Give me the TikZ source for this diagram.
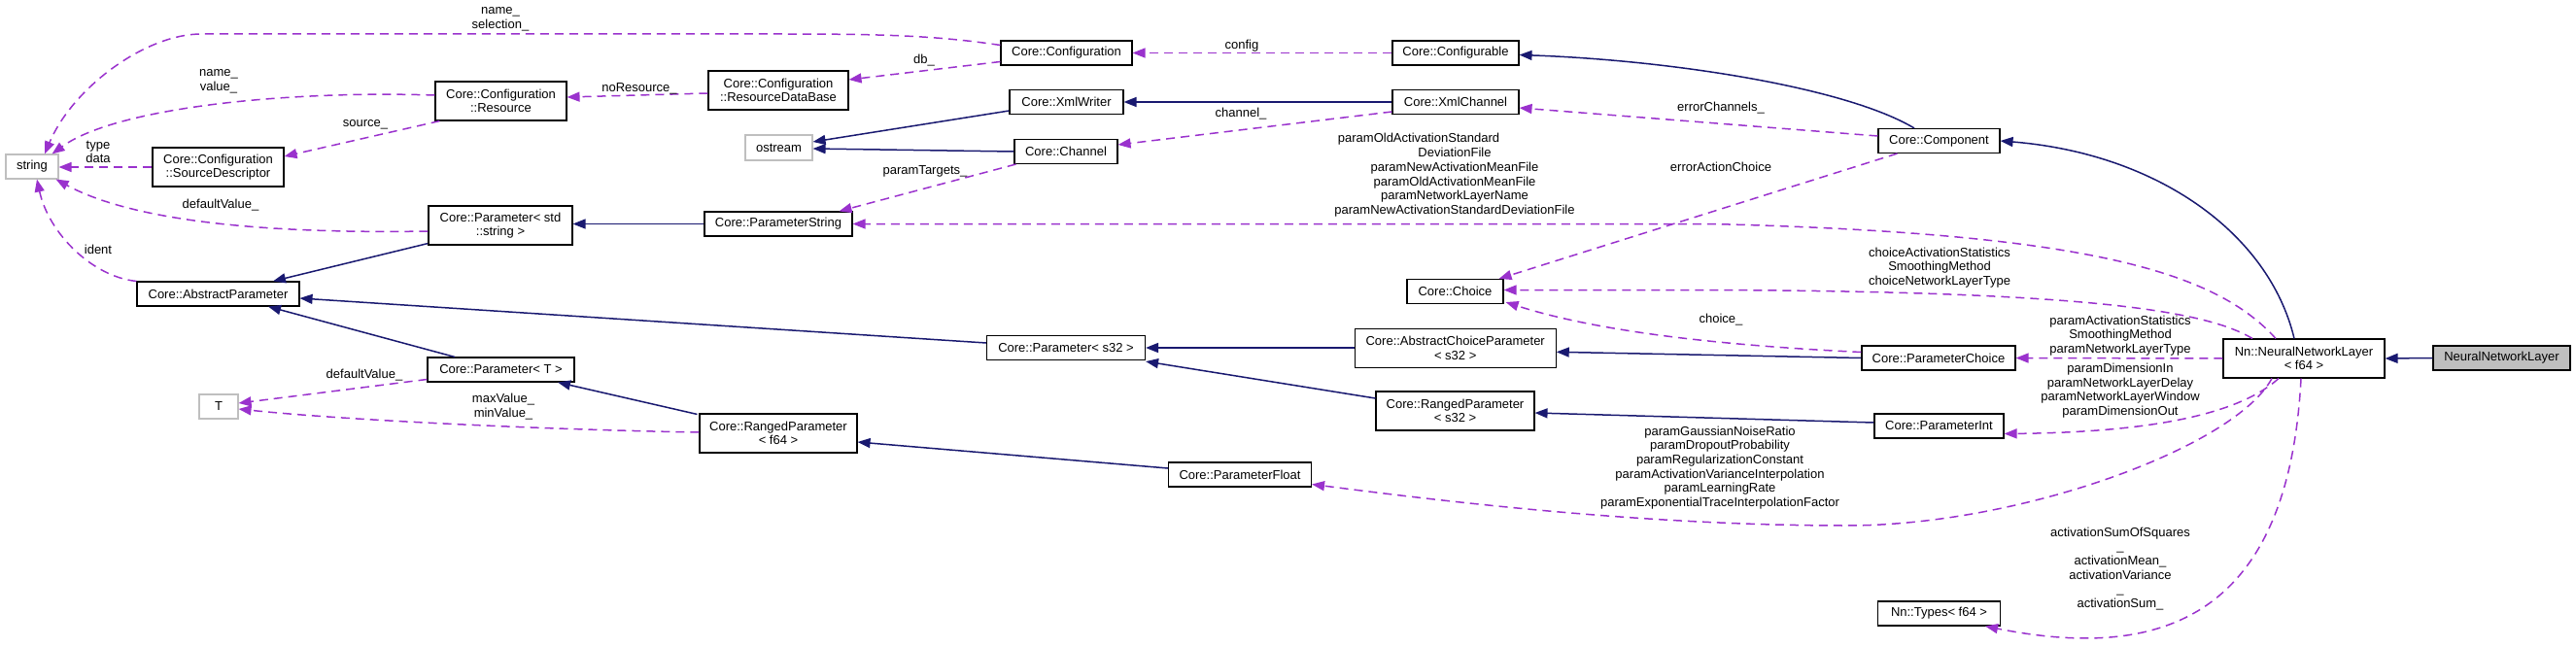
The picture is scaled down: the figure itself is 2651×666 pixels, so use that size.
\documentclass[tikz,border=0pt]{standalone}
\usepackage{fontspec}
\setmainfont{Liberation Sans}
\usetikzlibrary{arrows.meta,calc}
\definecolor{navyc}{HTML}{191970}
\definecolor{purpc}{HTML}{9A32CD}
\definecolor{boxgray}{HTML}{BFBFBF}
\begin{document}
\begin{tikzpicture}[x=1pt,y=-1pt,
  every node/.style={font=\fontsize{13}{14.7}\selectfont},
  cls/.style={draw=black, line width=1.1pt, fill=white, inner sep=0pt, minimum height=25pt, align=center},
  cls2/.style={cls, minimum height=40pt},
  gcls/.style={cls, draw=boxgray},
  lbl/.style={inner sep=0pt, align=center},
  inh/.style={draw=navyc, line width=1.5pt, -{Triangle[length=13pt,width=10pt]}},
  dep/.style={draw=purpc, line width=1.5pt, dash pattern=on 9pt off 6pt, -{Triangle[length=13pt,width=10pt]}}]
\useasboundingbox (0,0) rectangle (2651,666);
% ---------- classes ----------
\node[gcls, minimum width=54pt] (string) at (33,171.5) {string};
\node[cls2, minimum width=135pt] (Resource) at (515.5,104) {Core::Configuration\\::Resource};
\node[cls2, minimum width=144pt] (RDB) at (801,93) {Core::Configuration\\::ResourceDataBase};
\node[gcls, minimum width=69pt, minimum height=26pt] (ostream) at (801.5,152) {ostream};
\node[cls2, minimum width=135pt] (SrcDesc) at (224.5,172) {Core::Configuration\\::SourceDescriptor};
\node[cls2, minimum width=148pt] (PStd) at (515,232) {Core::Parameter< std\\::string >};
\node[cls, minimum width=152pt] (PString) at (801,230.5) {Core::ParameterString};
\node[cls, minimum width=167pt] (AbsP) at (224.5,302.5) {Core::AbstractParameter};
\node[cls, minimum width=151pt] (PT) at (515.5,380.5) {Core::Parameter< T >};
\node[gcls, minimum width=40pt] (T) at (225,418.5) {T};
\node[cls2, minimum width=162pt] (RF64) at (801,446) {Core::RangedParameter\\< f64 >};
\node[cls, minimum width=135pt] (Config) at (1097.5,54.5) {Core::Configuration};
\node[cls, minimum width=130pt] (Configurable) at (1498,54.5) {Core::Configurable};
\node[cls, minimum width=117pt] (XmlWriter) at (1097.5,105) {Core::XmlWriter};
\node[cls, minimum width=130pt] (XmlChannel) at (1498,105) {Core::XmlChannel};
\node[cls, minimum width=106pt] (Channel) at (1097,156) {Core::Channel};
\node[cls, minimum width=99pt] (Choice) at (1497.5,300) {Core::Choice};
\node[cls, minimum width=163pt] (PS32) at (1097,358) {Core::Parameter< s32 >};
\node[cls2, minimum width=207pt] (ACP) at (1497.7,358.3) {Core::AbstractChoiceParameter\\< s32 >};
\node[cls2, minimum width=163pt] (RS32) at (1497.5,423) {Core::RangedParameter\\< s32 >};
\node[cls, minimum width=147pt] (PFloat) at (1276,488.5) {Core::ParameterFloat};
\node[cls, minimum width=125pt] (Component) at (1995.5,145) {Core::Component};
\node[cls, minimum width=158pt] (PChoice) at (1995,368.5) {Core::ParameterChoice};
\node[cls2, minimum width=166pt] (NNLf) at (2371,369) {Nn::NeuralNetworkLayer\\< f64 >};
\node[cls, minimum width=141pt, fill=boxgray] (NNL) at (2574.5,368.5) {NeuralNetworkLayer};
\node[cls, minimum width=133pt] (PInt) at (1995.5,438.5) {Core::ParameterInt};
\node[cls, minimum width=126pt] (Types) at (1995.5,631.5) {Nn::Types< f64 >};
% ---------- inheritance ----------
\draw[inh] (NNL.west) -- (NNLf.east);
\draw[inh] ($(NNLf.north)+(-10,0)$) .. controls (2335,240) and (2220,158) .. (Component.east);
\draw[inh] ($(Component.north)+(-25.5,0)$) .. controls (1900,90) and (1720,62) .. ($(Configurable.east)+(0,2)$);
\draw[inh] (XmlChannel.west) -- (XmlWriter.east);
\draw[inh] ($(XmlWriter.west)+(0,9)$) -- ($(ostream.east)+(0,-6)$);
\draw[inh] (Channel.west) -- ($(ostream.east)+(0,1)$);
\draw[inh] (PString.west) -- (PString.west -| PStd.east);
\draw[inh] ($(PStd.south west)+(0,-2)$) -- ($(AbsP.north)+(56.5,0)$);
\draw[inh] ($(PS32.west)+(0,-5)$) -- ($(AbsP.east)+(0,4.5)$);
\draw[inh] ($(PT.north)+(-47.5,0)$) -- ($(AbsP.south)+(51.5,0)$);
\draw[inh] ($(RF64.north west)+(-2,1)$) -- ($(PT.south)+(58.5,0)$);
\draw[inh] ($(PFloat.west)+(0,-6.5)$) -- ($(RF64.east)+(0,9)$);
\draw[inh] (ACP.west |- PS32.east) -- (PS32.east);
\draw[inh] ($(RS32.west)+(0,-13)$) -- ($(PS32.south east)+(0,1)$);
\draw[inh] (PChoice.west) -- ($(ACP.east)+(0,4)$);
\draw[inh] ($(PInt.west)+(0,-3.5)$) -- ($(RS32.east)+(0,2)$);
% ---------- usage ----------
\draw[dep] ($(Config.west)+(0,-8)$) .. controls (960,36) and (900,35) .. (800,35) -- (207,35) .. controls (150,35) and (75,90) .. ($(string.north)+(13,0)$);
\draw[dep] ($(Resource.west)+(0,-6)$) .. controls (300,93) and (120,110) .. ($(string.north east)+(-7,0)$);
\draw[dep] ($(Resource.south west)+(5,0)$) -- ($(SrcDesc.east)+(0,-11)$);
\draw[dep] (SrcDesc.west) -- (SrcDesc.west -| string.east);
\draw[dep] ($(PStd.west)+(0,6)$) .. controls (320,240) and (150,235) .. ($(string.south east)+(-3,0)$);
\draw[dep] (AbsP.north west) .. controls (95,285) and (50,240) .. ($(string.south)+(5,0)$);
\draw[dep] ($(RDB.west)+(0,3)$) -- ($(Resource.east)+(0,-4)$);
\draw[dep] ($(Config.west)+(0,9)$) -- ($(RDB.east)+(0,-11)$);
\draw[dep] (Configurable.west) -- (Config.east);
\draw[dep] ($(XmlChannel.west)+(0,10)$) -- ($(Channel.east)+(0,-7)$);
\draw[dep] ($(Channel.south west)+(2,0)$) -- ($(PString.north east)+(-14,0)$);
\draw[dep] ($(Component.west)+(0,-5)$) -- ($(XmlChannel.east)+(0,6)$);
\draw[dep] ($(Component.south west)+(20,0)$) -- ($(Choice.north east)+(-5,0)$);
\draw[dep] ($(NNLf.north)+(-29,0)$) .. controls (2280,280) and (2150,240) .. (1760,230.5) -- (PString.east);
\draw[dep] ($(NNLf.north)+(-53,0)$) .. controls (2270,320) and (2150,300) .. (1760,298.5) -- ($(Choice.east)+(0,-1.5)$);
\draw[dep] ($(PChoice.west)+(0,-6)$) .. controls (1760,355) and (1640,340) .. ($(Choice.south east)+(2,-2)$);
\draw[dep] (NNLf.west) -- (PChoice.east);
\draw[dep] ($(NNLf.south)+(-26,0)$) .. controls (2300,430) and (2200,445) .. ($(PInt.east)+(0,8)$);
\draw[dep] ($(NNLf.south)+(-33,0)$) .. controls (2300,460) and (2080,541) .. (1900,541) .. controls (1700,541) and (1500,518) .. ($(PFloat.east)+(0,10)$);
\draw[dep] ($(NNLf.south)+(-3,0)$) .. controls (2355,640) and (2220,680) .. ($(Types.south east)+(-16,0)$);
\draw[dep] ($(PT.west)+(0,10)$) -- ($(T.east)+(0,-3.5)$);
\draw[dep] ($(RF64.west)+(0,-1)$) .. controls (550,442) and (350,432) .. ($(T.east)+(0,2.5)$);
% ---------- labels ----------
\node[lbl] (l1) at (515,19.5) {name\_\\selection\_};
\node[lbl] (l2) at (225,83.5) {name\_\\value\_};
\node[lbl] (l3) at (658,91) {noResource\_};
\node[lbl] (l4) at (376,128) {source\_};
\node[lbl] (l5) at (101,156.5) {type\\data};
\node[lbl] (l6) at (227,211) {defaultValue\_};
\node[lbl] (l7) at (101,257) {ident};
\node[lbl] (l8) at (375,386) {defaultValue\_};
\node[lbl] (l9) at (518,418.8) {maxValue\_\\minValue\_};
\node[lbl] (l10) at (1278,46.7) {config};
\node[lbl] (l11) at (951,62) {db\_};
\node[lbl] (l12) at (1277,117) {channel\_};
\node[lbl] (l13) at (952,176) {paramTargets\_};
\node[lbl] (l14) at (1771,111) {errorChannels\_};
\node[lbl] (l15) at (1771,172) {errorActionChoice};
\node[lbl] (l16) at (1497,180.3) {paramOldActivationStandard\hspace*{74pt}\\DeviationFile\\paramNewActivationMeanFile\\paramOldActivationMeanFile\\paramNetworkLayerName\\paramNewActivationStandardDeviationFile};
\node[lbl] (l17) at (1996,275.5) {choiceActivationStatistics\\SmoothingMethod\\choiceNetworkLayerType};
\node[lbl] (l18) at (1771,329) {choice\_};
\node[lbl] (l19) at (2182,345.5) {paramActivationStatistics\\SmoothingMethod\\paramNetworkLayerType};
\node[lbl] (l20) at (2182,402) {paramDimensionIn\\paramNetworkLayerDelay\\paramNetworkLayerWindow\\paramDimensionOut};
\node[lbl] (l21) at (1770,481.5) {paramGaussianNoiseRatio\\paramDropoutProbability\\paramRegularizationConstant\\paramActivationVarianceInterpolation\\paramLearningRate\\paramExponentialTraceInterpolationFactor};
\node[lbl] (l22) at (2182,585.5) {activationSumOfSquares\\\_\\activationMean\_\\activationVariance\hspace*{40pt}\\\_\\activationSum\_};
\end{tikzpicture}
\end{document}
